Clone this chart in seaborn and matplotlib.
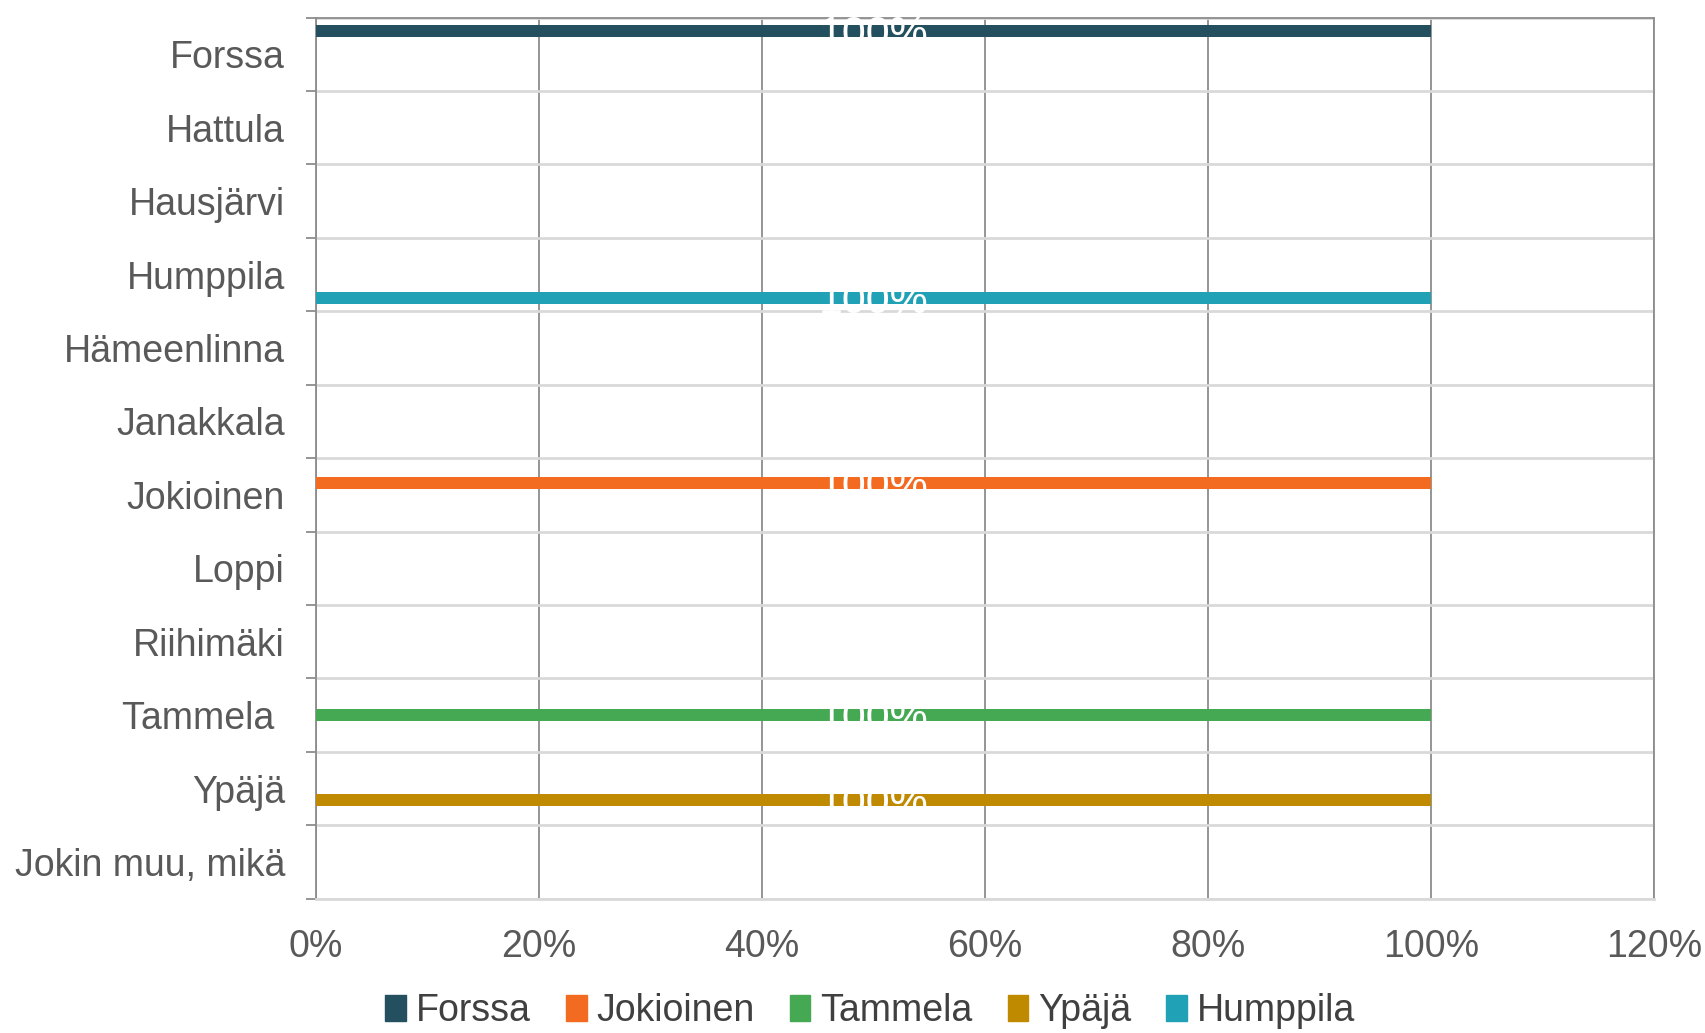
import pandas as pd
import numpy as np
import matplotlib.pyplot as plt
import seaborn as sns
from matplotlib.patches import Patch
from matplotlib.ticker import FuncFormatter

sns.set_theme(style="white")
plt.rcParams["font.family"] = ["Liberation Sans", "DejaVu Sans"]

categories = ["Forssa", "Hattula", "Hausjärvi", "Humppila", "Hämeenlinna", "Janakkala",
              "Jokioinen", "Loppi", "Riihimäki", "Tammela ", "Ypäjä", "Jokin muu, mikä"]
series = ["Forssa", "Jokioinen", "Tammela", "Ypäjä", "Humppila"]
forssa    = [100, 0, 0, 0, 0, 0, 0, 0, 0, 0, 0, 0]
jokioinen = [0, 0, 0, 0, 0, 0, 100, 0, 0, 0, 0, 0]
tammela   = [0, 0, 0, 0, 0, 0, 0, 0, 0, 100, 0, 0]
ypaja     = [0, 0, 0, 0, 0, 0, 0, 0, 0, 0, 100, 0]
humppila  = [0, 0, 0, 100, 0, 0, 0, 0, 0, 0, 0, 0]
colors = ["#244F5E", "#F26B21", "#45A852", "#C08A00", "#21A1B5"]

values = [forssa, jokioinen, tammela, ypaja, humppila]
rows = []
for s, vals in zip(series, values):
    for c, v in zip(categories, vals):
        rows.append({"kunta": c, "sarja": s, "arvo": v})
df = pd.DataFrame(rows)

fig = plt.figure(figsize=(17.06, 10.33), dpi=100)
ax = fig.add_axes([0.185, 0.130, 0.7844, 0.853])

sns.barplot(data=df, y="kunta", x="arvo", hue="sarja", order=categories,
            hue_order=series, palette=colors, orient="h", width=0.8,
            saturation=1, legend=False, linewidth=0, ax=ax, zorder=3)

for cont in ax.containers:
    labels = [f"{v:.0f}%" if v > 0 else "" for v in cont.datavalues]
    anns = ax.bar_label(cont, labels=labels, label_type="center", color="white",
                        fontsize=31, zorder=5)
    for a in anns:
        a.xyann = (0, -3)

ax.set_xlim(0, 120)
ax.set_ylim(len(categories) - 0.5, -0.5)
ax.set_xticks(np.arange(0, 121, 20))
ax.xaxis.set_major_formatter(FuncFormatter(lambda v, p: f"{v:.0f}%"))
ax.set_yticks(np.arange(len(categories) + 1) - 0.5, minor=True)

ax.grid(axis="x", which="major", color="#8C8C8C", lw=1.3, zorder=1)
ax.grid(axis="y", which="minor", color="#D9D9D9", lw=2, zorder=1)
ax.tick_params(axis="x", length=0, pad=22, labelsize=27, labelcolor="#595959")
ax.tick_params(axis="y", which="major", length=0, pad=22, labelsize=27, labelcolor="#595959")
ax.tick_params(axis="y", which="minor", length=7, width=1.3, color="#8C8C8C", left=True)
ax.set_xlabel("")
ax.set_ylabel("")

for side in ["left", "top", "right"]:
    ax.spines[side].set_visible(True)
    ax.spines[side].set_color("#8C8C8C")
    ax.spines[side].set_linewidth(1.3)
ax.spines["bottom"].set_color("#D9D9D9")
ax.spines["bottom"].set_linewidth(2)

handles = [Patch(color=c, label=s) for s, c in zip(series, colors)]
fig.legend(handles=handles, loc="center", bbox_to_anchor=(0.51, 0.021), ncol=5,
           frameon=False, fontsize=27, handlelength=0.55, handleheight=0.7,
           handletextpad=0.25, columnspacing=0.95, labelcolor="#404040")

plt.savefig("out.png", dpi=100)
